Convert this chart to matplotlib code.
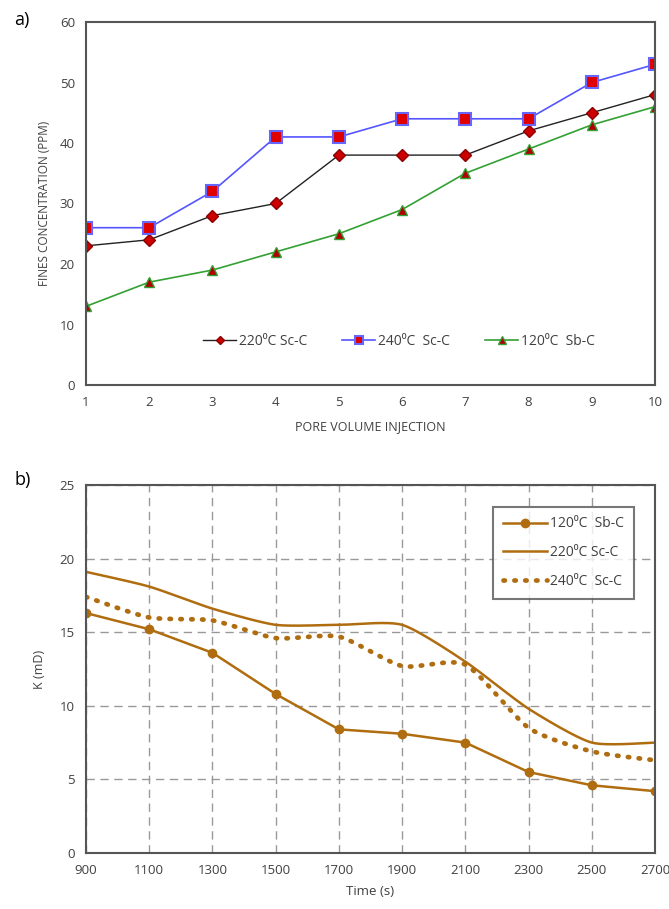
import numpy as np
import matplotlib
matplotlib.use("Agg")
import matplotlib.pyplot as plt

plt.rcParams['font.family'] = ['Open Sans', 'DejaVu Sans']

# Panel a data
pv = [1, 2, 3, 4, 5, 6, 7, 8, 9, 10]
c220 = [23, 24, 28, 30, 38, 38, 38, 42, 45, 48]
c240 = [26, 26, 32, 41, 41, 44, 44, 44, 50, 53]
c120 = [13, 17, 19, 22, 25, 29, 35, 39, 43, 46]

# Panel b data
time_s = [900, 1100, 1300, 1500, 1700, 1900, 2100, 2300, 2500, 2700]
k120 = [16.3, 15.2, 13.6, 10.8, 8.4, 8.1, 7.5, 5.5, 4.6, 4.2]
k220 = [19.1, 18.1, 16.6, 15.5, 15.5, 15.5, 13.0, 9.8, 7.5, 7.5]
k240 = [17.4, 16.0, 15.8, 14.6, 14.7, 12.7, 12.8, 8.5, 6.9, 6.3]


def smooth(x, y, n=30, tension=0.5):
    x = np.asarray(x, float)
    y = np.asarray(y, float)
    xs, ys = [], []
    for i in range(len(x) - 1):
        p0 = np.array([x[max(i - 1, 0)], y[max(i - 1, 0)]])
        p1 = np.array([x[i], y[i]])
        p2 = np.array([x[i + 1], y[i + 1]])
        p3 = np.array([x[min(i + 2, len(x) - 1)], y[min(i + 2, len(x) - 1)]])
        m1 = tension * (p2 - p0) * (2 / 3)
        m2 = tension * (p3 - p1) * (2 / 3)
        t = np.linspace(0, 1, n)
        h00 = 2 * t**3 - 3 * t**2 + 1
        h10 = t**3 - 2 * t**2 + t
        h01 = -2 * t**3 + 3 * t**2
        h11 = t**3 - t**2
        pts = (np.outer(h00, p1) + np.outer(h10, m1) + np.outer(h01, p2)
               + np.outer(h11, m2))
        xs.extend(pts[:, 0])
        ys.extend(pts[:, 1])
    return np.array(xs), np.array(ys)


fig = plt.figure(figsize=(6.69, 9.09), dpi=100)
W, H = 669, 909
tick_color = '#404040'
spine_color = '#555555'
deg = '\u2070'

# ---------- Panel a ----------
ax1 = fig.add_axes([86 / W, 1 - 385 / H, (655 - 86) / W, (385 - 22) / H])
ax1.plot(pv, c220, color='#222222', lw=1.0, marker='D', ms=6,
         mfc='#cc0000', mec='#8b0000', label=f'220{deg}C Sc-C')
ax1.plot(pv, c240, color='#5555ff', lw=1.2, marker='s', ms=8,
         mfc='#e00000', mec='#6666ff', mew=1.5, label=f'240{deg}C  Sc-C')
ax1.plot(pv, c120, color='#33a033', lw=1.2, marker='^', ms=7,
         mfc='#b00000', mec='#33a033', label=f'120{deg}C  Sb-C')
ax1.set_xlim(1, 10)
ax1.set_ylim(0, 60)
ax1.set_xticks(pv)
ax1.set_yticks(range(0, 61, 10))
ax1.tick_params(length=0, labelsize=9.5, colors=tick_color, pad=8)
ax1.set_xlabel('PORE VOLUME INJECTION', fontsize=9, color=tick_color, labelpad=8)
ax1.set_ylabel('FINES CONCENTRATION (PPM)', fontsize=8.5, color=tick_color, labelpad=6)
for s in ax1.spines.values():
    s.set_color(spine_color)
    s.set_linewidth(1.5)
leg1 = ax1.legend(loc='lower center', bbox_to_anchor=(0.55, 0.065), ncol=3,
                  frameon=False, fontsize=10, handlelength=2.4, handletextpad=0.2,
                  columnspacing=2.5, markerscale=0.75, labelcolor=tick_color)
fig.text(14 / W, 1 - 20 / H, 'a)', fontsize=13, va='center', ha='left')

# ---------- Panel b ----------
brown = '#b06d10'
ax2 = fig.add_axes([86 / W, 1 - 853 / H, (655 - 86) / W, (853 - 485) / H])
ax2.grid(True, color='#999999', ls=(0, (6, 4)), lw=1.0)
ax2.set_axisbelow(True)
ax2.plot(time_s, k120, color=brown, lw=1.8, marker='o', ms=6, label=f'120{deg}C  Sb-C')
sx, sy = smooth(time_s, k220)
ax2.plot(sx, sy, color=brown, lw=1.8, label=f'220{deg}C Sc-C')
sx, sy = smooth(time_s, k240)
ax2.plot(sx, sy, color=brown, lw=3.4, ls=(0, (0.3, 2.0)), dash_capstyle='round',
         label=f'240{deg}C  Sc-C')
ax2.set_xlim(900, 2700)
ax2.set_ylim(0, 25)
ax2.set_xticks(time_s)
ax2.set_yticks(range(0, 26, 5))
ax2.tick_params(length=0, labelsize=9.5, colors=tick_color, pad=8)
ax2.set_xlabel('Time (s)', fontsize=9.5, color=tick_color, labelpad=6)
ax2.set_ylabel('K (mD)', fontsize=9, color=tick_color, labelpad=10)
for s in ax2.spines.values():
    s.set_color(spine_color)
    s.set_linewidth(1.5)
leg2 = ax2.legend(loc='upper right', bbox_to_anchor=(0.975, 0.96), frameon=True,
                  fancybox=False, fontsize=10, handlelength=3.2, handletextpad=0.2,
                  labelspacing=1.0, labelcolor=tick_color, borderpad=0.7)
leg2.get_frame().set_edgecolor('#555555')
leg2.get_frame().set_linewidth(1.5)
fig.text(14 / W, 1 - 480 / H, 'b)', fontsize=13, va='center', ha='left')

fig.savefig('out.png', dpi=100)
